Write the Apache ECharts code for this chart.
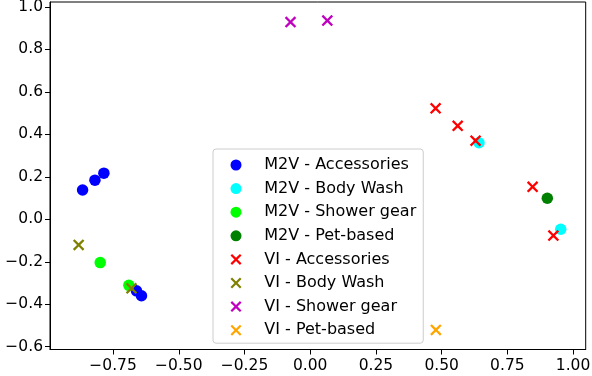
<!DOCTYPE html>
<html>
<head>
<meta charset="utf-8">
<script src="https://cdn.jsdelivr.net/npm/echarts@6/dist/echarts.min.js"></script>
<style>
  html, body { margin: 0; padding: 0; background: #fff; }
  #chart { width: 592px; height: 376px; }
</style>
</head>
<body>
<div id="chart"></div>
<script>
// point coordinates [x, y]
var m2vAccessories = [[-0.866, 0.138], [-0.819, 0.184], [-0.785, 0.217], [-0.661, -0.337], [-0.642, -0.36]];
var m2vBodyWash = [[0.642, 0.36], [0.953, -0.047]];
var m2vShowerGear = [[-0.799, -0.204], [-0.69, -0.311]];
var m2vPetBased = [[0.902, 0.099]];
var viAccessories = [[0.477, 0.522], [0.561, 0.44], [0.629, 0.37], [0.846, 0.153], [0.925, -0.077]];
var viBodyWash = [[-0.881, -0.121], [-0.68, -0.325]];
var viShowerGear = [[-0.075, 0.928], [0.065, 0.935]];
var viPetBased = [[0.478, -0.521]];

var xTicks = [-0.75, -0.5, -0.25, 0, 0.25, 0.5, 0.75, 1.0];
var yTicks = [-0.6, -0.4, -0.2, 0, 0.2, 0.4, 0.6, 0.8, 1.0];

var font = "DejaVu Sans";
var crossPath = "path://M0,1.41 L1.41,0 L5,3.59 L8.59,0 L10,1.41 L6.41,5 L10,8.59 L8.59,10 L5,6.41 L1.41,10 L0,8.59 L3.59,5 Z";

function minus(s) {
  return s.replace("-", "\u2212");
}

function makeSeries(name, data, color, isCross) {
  return {
    name: name,
    type: "scatter",
    data: data,
    symbol: isCross ? crossPath : "circle",
    symbolSize: 11.5,
    symbolKeepAspect: true,
    itemStyle: { color: color, opacity: 1 },
    emphasis: { disabled: true },
  };
}

var chart = echarts.init(document.getElementById("chart"));
chart.setOption({
  animation: false,
  grid: {
    left: 50,
    right: 6.3,
    top: 2,
    bottom: 26.5,
    show: true,
    borderColor: "#000",
    borderWidth: 1,
    outerBoundsMode: "none",
  },
  xAxis: {
    type: "value",
    min: -0.99,
    max: 1.048,
    axisLine: { show: true, onZero: false, lineStyle: { color: "#000", width: 1 } },
    axisTick: { show: true, length: 5, customValues: xTicks, lineStyle: { color: "#000" } },
    axisLabel: {
      customValues: xTicks,
      margin: 8,
      color: "#000",
      fontFamily: font,
      fontSize: 15.5,
      formatter: function (v) { return minus(v.toFixed(2)); },
    },
    splitLine: { show: false },
  },
  yAxis: {
    type: "value",
    min: -0.613,
    max: 1.0226,
    axisLine: { show: true, onZero: false, lineStyle: { color: "#000", width: 1 } },
    axisTick: { show: true, length: 5, customValues: yTicks, lineStyle: { color: "#000" } },
    axisLabel: {
      customValues: yTicks,
      margin: 7,
      color: "#000",
      fontFamily: font,
      fontSize: 15.5,
      formatter: function (v) { return minus(v.toFixed(1)); },
    },
    splitLine: { show: false },
  },
  legend: {
    orient: "vertical",
    left: 213,
    top: 149,
    padding: [8, 7, 5, 17.5],
    itemWidth: 11,
    itemHeight: 11,
    itemGap: 7.6,
    backgroundColor: "rgba(255,255,255,0.8)",
    borderColor: "#cccccc",
    borderWidth: 1,
    borderRadius: 3,
    selectedMode: false,
    textStyle: {
      color: "#000",
      fontFamily: font,
      fontSize: 16,
      padding: [0, 0, 0, 17.8],
    },
  },
  series: [
    makeSeries("M2V - Accessories", m2vAccessories, "#0000ff", false),
    makeSeries("M2V - Body Wash", m2vBodyWash, "#00ffff", false),
    makeSeries("M2V - Shower gear", m2vShowerGear, "#00ff00", false),
    makeSeries("M2V - Pet-based", m2vPetBased, "#008000", false),
    makeSeries("VI - Accessories", viAccessories, "#ff0000", true),
    makeSeries("VI - Body Wash", viBodyWash, "#808000", true),
    makeSeries("VI - Shower gear", viShowerGear, "#bf00bf", true),
    makeSeries("VI - Pet-based", viPetBased, "#ffa500", true),
  ],
});
</script>
</body>
</html>
